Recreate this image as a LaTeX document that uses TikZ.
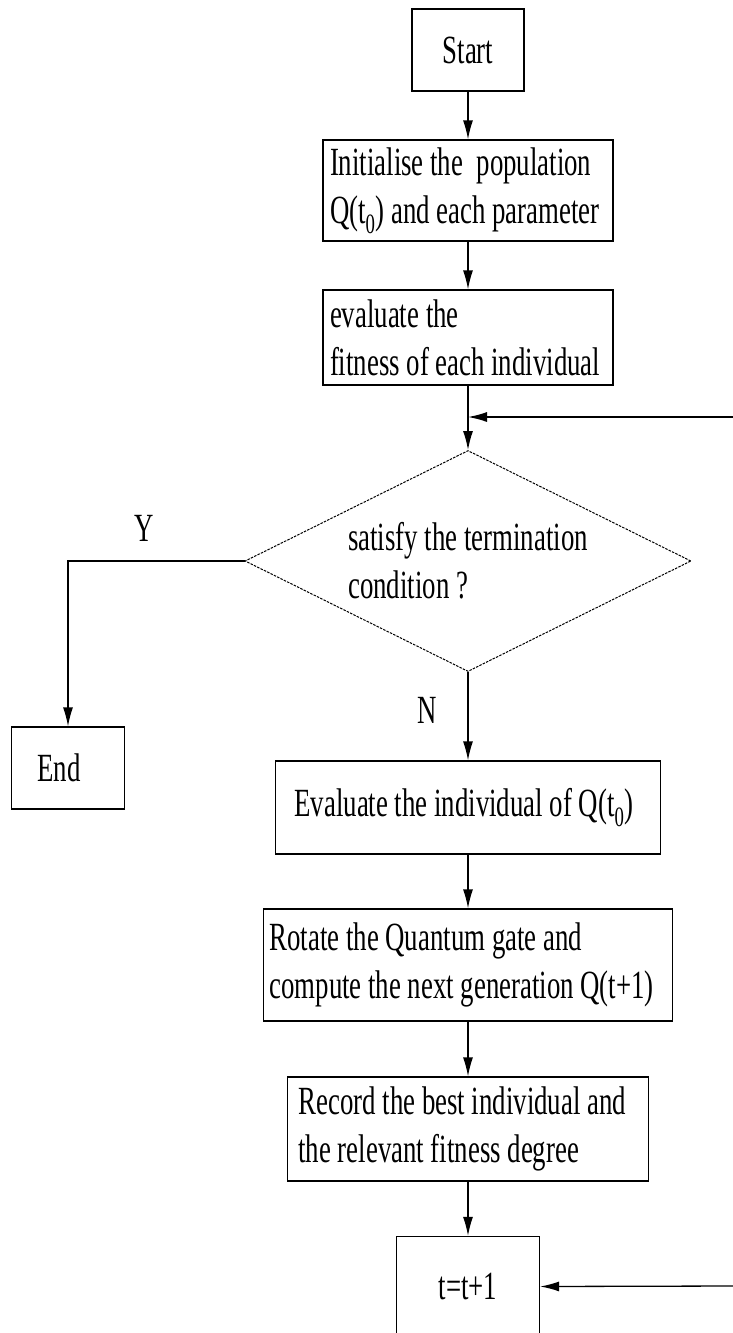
\documentclass[tikz,border=0pt]{standalone}
\usepackage{fontspec}
\setmainfont{Liberation Serif}[FakeStretch=0.67]
\usetikzlibrary{arrows.meta, shapes.geometric}

\begin{document}
\begin{tikzpicture}[x=1pt,y=-1pt,line width=1.3pt,inner sep=0pt,>={Latex[length=19pt,width=10pt]},
  every node/.style={font=\fontsize{40}{48}\selectfont},
  proc/.style={draw,rectangle,align=flush left},
  cond/.style={draw,diamond,aspect=2,line width=1pt,dash pattern=on 2.5pt off 1.2pt,minimum width=446pt,minimum height=221pt,align=left}]%,>=latex'
\useasboundingbox (0,0) rectangle (733,1333);
\clip (0,0) rectangle (733,1333);
\draw node [proc,minimum width=112pt,minimum height=82pt] (start) at (468,50) {Start};
\draw node [proc,text width=276pt,inner xsep=7pt,minimum height=101pt] [below of=start,node distance=140.5pt] (init) {Initialise the~ population\\Q(t\textsubscript{0}) and each parameter};
\draw node [proc,text width=276pt,inner xsep=7pt,minimum height=95pt] [below of=init,node distance=147pt] (eval) {evaluate the\\fitness of each individual};
\draw node [cond] [below of=eval,node distance=223.5pt] (dia) {satisfy the termination\\condition ?};
\draw node [proc,text width=61pt,inner xsep=26pt,minimum height=82pt] (end) at (68,768) {End};
\draw node [proc,text width=347pt,inner xsep=19pt,minimum height=93pt] [below of=dia,node distance=246.5pt] (evalind) {Evaluate the individual of Q(t\textsubscript{0})};
\draw node [proc,text width=397pt,inner xsep=6pt,minimum height=112pt] [below of=evalind,node distance=157.5pt] (rotate) {Rotate the Quantum gate and\\compute the next generation Q(t+1)};
\draw node [proc,text width=339pt,inner xsep=11pt,minimum height=104pt] [below of=rotate,node distance=164pt] (record) {Record the best individual and\\the relevant fitness degree};
\draw node [proc,minimum width=143pt,minimum height=100pt] [below of=record,node distance=157.5pt] (tt) {t=t+1};
\node (ylab) at (144,528) {Y};
\node (nlab) at (427,710) {N};
\coordinate (loopa) at (733,417);
\coordinate (loopb) at (733,1286);
\draw [->] (start) -- (init);
\draw [->] (init) -- (eval);
\draw [->] (eval) -- (dia);
\draw [->] (loopa) -- (loopa -| eval.south);
\draw [->] (dia.west) -| (end.north);
\draw [->] (dia.south) -- (dia.south |- evalind.north);
\draw [->] (evalind) -- (rotate);
\draw [->] (rotate) -- (record);
\draw [->] (record) -- (tt);
\draw [->] (loopb) -- (tt.east);
\end{tikzpicture}
\end{document}
